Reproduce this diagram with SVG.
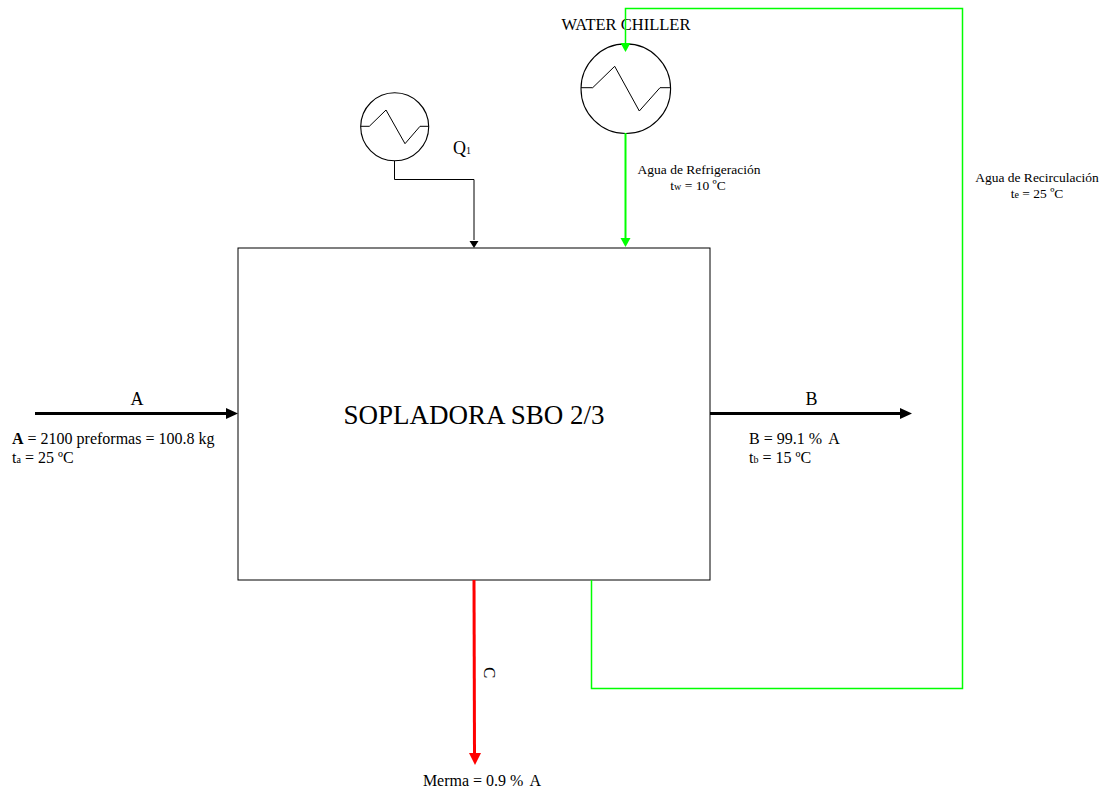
<svg xmlns="http://www.w3.org/2000/svg" width="1106" height="791" viewBox="0 0 1106 791">
<style>
text{font-family:"Liberation Serif","Times New Roman",serif;fill:#000}
.s{font-size:13.5px}
.m{font-size:16px}
.sub{font-size:10px}
.sym{fill:none;stroke:#000;stroke-width:1.1}
.zig{fill:none;stroke:#000;stroke-width:1}
.line{fill:none}
</style>
<rect width="1106" height="791" fill="#fff"/>
<g id="sopladora">
<rect x="238" y="248" width="472" height="332" fill="none" stroke="#000" stroke-width="1"/>
<text x="474" y="424" text-anchor="middle" font-size="27">SOPLADORA SBO 2/3</text>
</g>
<g id="exchanger-q1">
<circle class="sym" cx="394.7" cy="126.8" r="34"/>
<polyline class="zig" points="360.7,126.3 369.3,126.3 386,110 405,143.7 420,126.3 428.7,126.3"/>
<text x="453" y="154" style="font-size:18px">Q<tspan style="font-size:10px">1</tspan></text>
</g>
<g id="water-chiller">
<circle class="sym" cx="625.8" cy="88.7" r="44.8"/>
<polyline class="zig" points="581,87.7 592.7,87.7 614.7,66.3 639.3,111 660,87.7 670.7,87.7"/>
<text x="626" y="30" text-anchor="middle" style="font-size:16.5px">WATER CHILLER</text>
</g>
<g id="connectors">
<path class="line" d="M394.5 161V179.5H474V240" stroke="#000" stroke-width="1"/>
<polygon points="469.5,241 478.5,241 474,248" fill="#000"/>
<path class="line" d="M35 413.5H228" stroke="#000" stroke-width="3"/>
<polygon points="226,408 238,413.5 226,419" fill="#000"/>
<path class="line" d="M710 413.5H902" stroke="#000" stroke-width="3"/>
<polygon points="900,408 912,413.5 900,419" fill="#000"/>
<path class="line" d="M474 580L474.5 755" stroke="#f00" stroke-width="3"/>
<polygon points="469,753 481,753 475,765" fill="#f00"/>
<path class="line" d="M625.5 133V240" stroke="#0f0" stroke-width="2"/>
<polygon points="620.5,238 630.5,238 625.5,247" fill="#0f0"/>
<path class="line" d="M591.5 580V688.5H962.5V8.5H625.5V45" stroke="#0f0" stroke-width="1.5"/>
<polygon points="620.5,43 630.5,43 625.5,52" fill="#0f0"/>
</g>
<g id="labels">
<text x="137" y="405" text-anchor="middle" style="font-size:18px">A</text>
<text x="12" y="444" class="m"><tspan font-weight="bold">A</tspan> = 2100 preformas = 100.8 kg</text>
<text x="12" y="463" class="m">t<tspan class="sub">a</tspan> = 25 ºC</text>
<text x="811.5" y="405" text-anchor="middle" style="font-size:18px">B</text>
<text x="749" y="444" class="m">B = 99.1 % <tspan dx="3">A</tspan></text>
<text x="749" y="463" class="m">t<tspan class="sub">b</tspan> = 15 ºC</text>
<text x="699" y="174" text-anchor="middle" class="s">Agua de Refrigeración</text>
<text x="698" y="190" text-anchor="middle" class="s">t<tspan class="sub">w</tspan> = 10 ºC</text>
<text x="1037" y="182" text-anchor="middle" class="s">Agua de Recirculación</text>
<text x="1037" y="198" text-anchor="middle" class="s">t<tspan class="sub">e</tspan> = 25 ºC</text>
<text x="484" y="667" transform="rotate(90 484 667)" style="font-size:17px">C</text>
<text x="482" y="786" text-anchor="middle" class="m">Merma = 0.9 % <tspan dx="3">A</tspan></text>
</g>
</svg>
